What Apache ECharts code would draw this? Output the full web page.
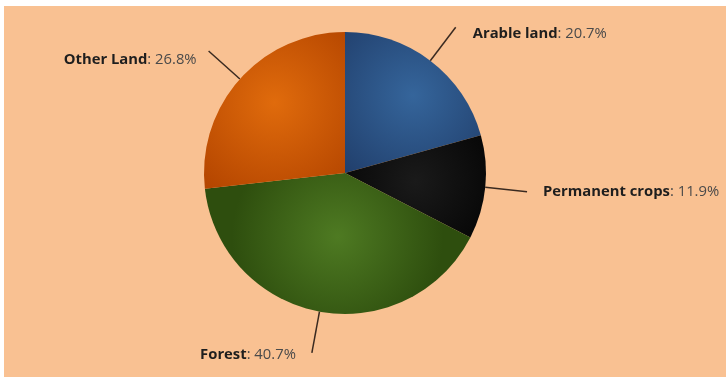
<!DOCTYPE html>
<html>
<head>
<meta charset="utf-8">
<style>
  html, body { margin: 0; padding: 0; background: #ffffff; }
  #chart { position: absolute; left: 4px; top: 6px; width: 722px; height: 371px; background: #F9C192; }
</style>
<script src="https://cdn.jsdelivr.net/npm/echarts@6/dist/echarts.min.js"></script>
</head>
<body>
<div id="chart"></div>
<script>
// Land use shares (%)
const categories = ['Arable land', 'Permanent crops', 'Forest', 'Other Land'];
const shares = [20.7, 11.9, 40.7, 26.8];
// Slice colours: lighter core tone, darker rim tone
const coreColors = ['#35659B', '#1A1A1A', '#4E7A22', '#E06B0C'];
const rimColors = ['#213F6C', '#080808', '#2E4E0E', '#B54600'];
// Per-slice label nudges: [top padding, gap to the leader line]
const labelTweaks = [[14, 17], [0, 16], [4, 16], [18, 12]];

const chart = echarts.init(document.getElementById('chart'));

const data = categories.map((name, i) => ({
  name: name,
  value: shares[i],
  label: {
    padding: [labelTweaks[i][0], 0, 0, 0],
    distanceToLabelLine: labelTweaks[i][1]
  },
  itemStyle: {
    color: {
      type: 'radial', x: 0.5, y: 0.45, r: 0.75,
      colorStops: [
        { offset: 0, color: coreColors[i] },
        { offset: 1, color: rimColors[i] }
      ]
    }
  }
}));

chart.setOption({
  backgroundColor: '#F9C192',
  animation: false,
  series: [{
    type: 'pie',
    center: [341, 167],
    radius: 141,
    startAngle: 90,
    clockwise: true,
    data: data,
    itemStyle: { borderWidth: 0 },
    label: {
      show: true,
      overflow: 'none',
      formatter: p => '{n|' + p.name + '}{v|: ' + p.value.toFixed(1) + '%}',
      rich: {
        n: { fontFamily: 'Open Sans', fontWeight: 'bold', fontSize: 14.8, color: '#1e1e1e' },
        v: { fontFamily: 'Open Sans', fontSize: 14.8, color: '#4a4a4a' }
      }
    },
    labelLine: {
      show: true,
      length: 42,
      length2: 0,
      lineStyle: { color: '#3a2a20', width: 1.5 }
    },
    emphasis: { disabled: true }
  }]
});
</script>
</body>
</html>
